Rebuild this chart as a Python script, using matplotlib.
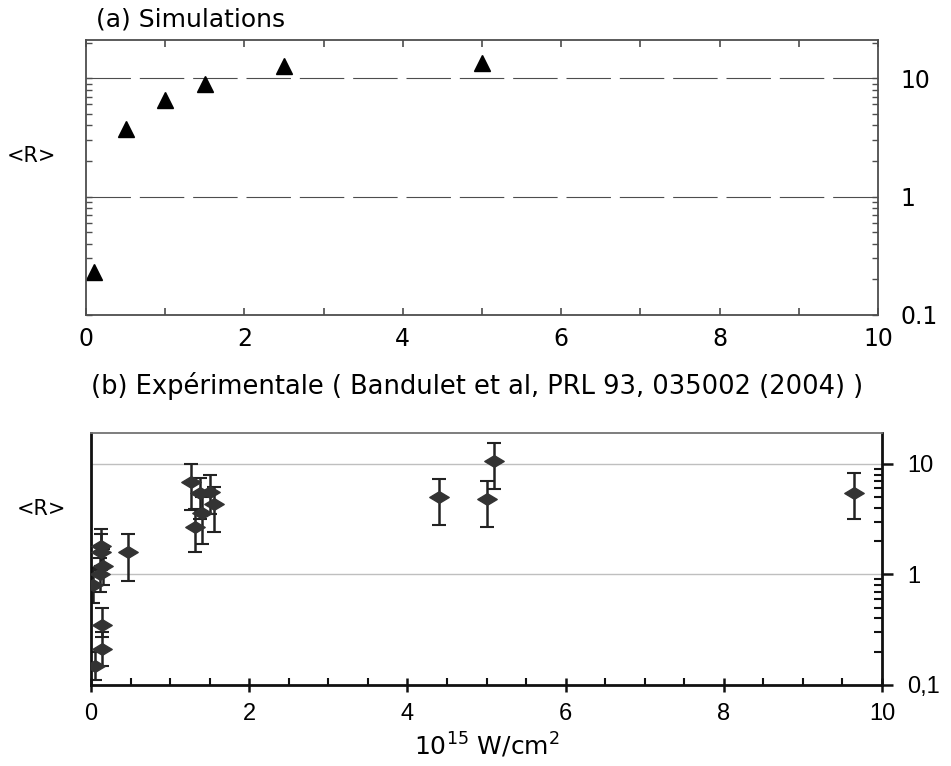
import numpy as np
import matplotlib
matplotlib.use("Agg")
import matplotlib.pyplot as plt
from matplotlib.ticker import MultipleLocator, LogLocator, FixedLocator, NullFormatter, FixedFormatter
from matplotlib.path import Path

# ---- data ----
sim_x = [0.1, 0.5, 1.0, 1.5, 2.5, 5.0]
sim_R = [0.23, 3.7, 6.5, 8.9, 12.6, 13.5]

exp_x  = [0.03, 0.05, 0.13, 0.13, 0.15, 0.11, 0.14, 0.14, 0.47,
          1.27, 1.31, 1.38, 1.40, 1.50, 1.56, 4.40, 5.00, 5.10, 9.65]
exp_R  = [0.80, 0.15, 1.8, 1.6, 1.2, 1.0, 0.35, 0.21, 1.6,
          6.9, 2.7, 5.4, 3.6, 5.6, 4.3, 5.0, 4.8, 10.6, 5.5]
exp_lo = [0.55, 0.11, 1.2, 1.1, 0.8, 0.7, 0.27, 0.15, 0.88,
          3.8, 1.6, 3.2, 1.9, 3.5, 2.4, 2.8, 2.7, 5.9, 3.2]
exp_hi = [1.15, 0.20, 2.6, 2.3, 1.7, 1.4, 0.50, 0.30, 2.3,
          10.0, 3.9, 7.5, 5.0, 8.0, 6.2, 7.3, 7.0, 15.5, 8.2]

top_xticks = [0, 2, 4, 6, 8, 10]
top_yticks = [0.1, 1, 10]
top_ylabels = ["0.1", "1", "10"]
bot_ylabels = ["0,1", "1", "10"]

W, H = 951, 766
fig = plt.figure(figsize=(W / 100, H / 100), dpi=100)
plt.rcParams['font.family'] = ['DejaVu Sans']

# ---------------- top panel ----------------
ax1 = fig.add_axes([86 / W, 1 - 315 / H, 792 / W, 275 / H])
ax1.set_yscale('log')
ax1.set_xlim(0, 10)
ax1.set_ylim(0.1, 21)
ax1.plot(sim_x, sim_R, linestyle='none', marker='^', color='black', markersize=11)
for v in [1, 10]:
    ax1.axhline(v, color='0.3', lw=0.8, dashes=(40, 8), zorder=0)
for s in ax1.spines.values():
    s.set_color('0.3')
    s.set_linewidth(1.3)
ax1.xaxis.set_major_locator(FixedLocator(top_xticks))
ax1.xaxis.set_minor_locator(MultipleLocator(1))
ax1.tick_params(axis='x', which='both', direction='in', top=True, bottom=True,
                length=5, width=1.2, color='0.3', labelsize=17, pad=9)
ax1.yaxis.set_major_locator(FixedLocator(top_yticks))
ax1.yaxis.set_major_formatter(FixedFormatter(top_ylabels))
ax1.yaxis.set_minor_locator(LogLocator(base=10, subs=np.arange(2, 10)))
ax1.yaxis.set_minor_formatter(NullFormatter())
ax1.tick_params(axis='y', which='both', direction='in', left=True, right=True,
                labelleft=False, labelright=True, length=4, width=1,
                color='0.3', labelsize=17, pad=16)
ax1.text(-0.069, 0.58, "<R>", transform=ax1.transAxes, fontsize=15,
         ha='center', va='center')
ax1.text(0.012, 1.03, "(a) Simulations", transform=ax1.transAxes, fontsize=18,
         ha='left', va='bottom')

# ---------------- bottom panel ----------------
ax2 = fig.add_axes([91 / W, 1 - 685 / H, 791 / W, 252 / H])
ax2.set_yscale('log')
ax2.set_xlim(0, 10)
ax2.set_ylim(0.1, 19)
for v in [1, 10]:
    ax2.axhline(v, color='0.75', lw=1.0, zorder=0)

diamond = Path([(-1, 0), (0, 0.6), (1, 0), (0, -0.6), (-1, 0)],
               [Path.MOVETO, Path.LINETO, Path.LINETO, Path.LINETO, Path.CLOSEPOLY])
ex = np.array(exp_x)
ey = np.array(exp_R)
yerr = np.vstack([ey - np.array(exp_lo), np.array(exp_hi) - ey])
ax2.errorbar(ex, ey, yerr=yerr, fmt='none', ecolor='#222222', elinewidth=1.8,
             capsize=5, capthick=1.5, zorder=2)
ax2.plot(ex, ey, linestyle='none', marker=diamond, markersize=14,
         color='#333333', zorder=3)

ax2.spines['top'].set_color('0.45')
ax2.spines['top'].set_linewidth(1.3)
for k in ['left', 'right', 'bottom']:
    ax2.spines[k].set_color('#111111')
    ax2.spines[k].set_linewidth(2)
ax2.xaxis.set_major_locator(MultipleLocator(2))
ax2.xaxis.set_minor_locator(MultipleLocator(0.5))
ax2.tick_params(axis='x', which='major', direction='inout', length=10, width=1.8,
                top=False, labelsize=17, pad=8, color='#111111')
ax2.tick_params(axis='x', which='minor', direction='in', length=5, width=1.5,
                top=False, color='#111111')
ax2.yaxis.set_major_locator(FixedLocator(top_yticks))
ax2.yaxis.set_major_formatter(FixedFormatter(bot_ylabels))
ax2.yaxis.set_minor_locator(LogLocator(base=10, subs=np.arange(2, 10)))
ax2.yaxis.set_minor_formatter(NullFormatter())
ax2.tick_params(axis='y', which='major', direction='out', length=8, width=1.8,
                left=False, right=True, labelleft=False, labelright=True,
                labelsize=17, pad=10, color='#111111')
ax2.tick_params(axis='y', which='minor', direction='in', length=6, width=1.5,
                left=False, right=True, color='#111111')
for lab in ax2.get_xticklabels() + ax2.get_yticklabels():
    lab.set_family(['Liberation Sans', 'DejaVu Sans'])
ax2.text(-0.063, 0.70, "<R>", transform=ax2.transAxes, fontsize=15,
         ha='center', va='center')
ax2.text(0.0, 1.13, "(b) Expérimentale ( Bandulet et al, PRL 93, 035002 (2004) )",
         transform=ax2.transAxes, fontsize=18.5, ha='left', va='bottom')
ax2.set_xlabel(r"10$^{15}$ W/cm$^{2}$", fontsize=18, labelpad=4)

fig.savefig("out.png", dpi=100)
